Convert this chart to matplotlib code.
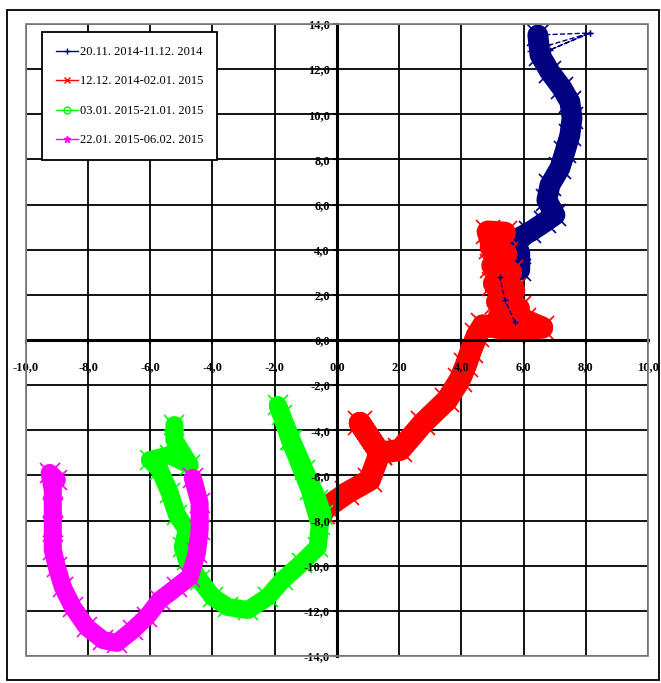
import matplotlib.pyplot as plt
from matplotlib.lines import Line2D
from matplotlib.patches import Rectangle
from matplotlib.ticker import FuncFormatter, MultipleLocator

# series (x, y)
labels = ['20.11. 2014-11.12. 2014', '12.12. 2014-02.01. 2015',
          '03.01. 2015-21.01. 2015', '22.01. 2015-06.02. 2015']

blue_x = [5.72, 5.40, 5.24, 5.88, 5.88, 5.72, 6.21, 6.69, 7.01, 6.75, 6.85, 7.17, 7.33,
          7.49, 7.56, 7.49, 7.23, 6.85, 6.53, 6.46, 8.13, 6.85, 8.13, 6.20, 6.70]
blue_y = [0.80, 1.77, 2.79, 3.10, 3.85, 4.43, 4.79, 5.23, 5.54, 6.20, 6.87, 7.62, 8.33,
          9.08, 9.84, 10.55, 11.17, 11.87, 12.63, 13.51, 13.60, 12.85, 13.60, 12.80, 12.60]

red_x = [5.30, 4.85, 5.40, 4.95, 5.45, 5.00, 5.60, 5.05, 5.70, 5.15, 5.85, 5.20, 6.00,
         6.60, 5.60, 4.70, 4.50, 4.30, 4.15, 3.95, 3.54, 2.77, 2.03, 1.38, 0.74, 1.38,
         1.06, 0.32, -0.32, -0.45]
red_y = [2.80, 4.80, 4.75, 4.10, 3.80, 3.30, 3.00, 2.50, 2.20, 1.70, 1.40, 1.00, 0.90,
         0.55, 0.45, 0.65, 0.20, -0.50, -1.10, -1.77, -2.66, -3.68, -4.87, -5.00, -3.68,
         -5.00, -6.20, -6.78, -7.40, -7.62]

green_x = [-0.45, -0.61, -1.03, -1.45, -1.77, -1.90, -1.51, -0.87, -0.55, -0.61, -1.13,
           -1.74, -2.22, -2.86, -3.50, -3.99, -4.41, -4.82, -4.95, -4.82, -5.14, -5.37,
           -5.69, -6.01, -5.37, -4.73, -5.22, -5.22]
green_y = [-7.75, -7.09, -5.76, -4.43, -3.32, -2.88, -4.43, -6.65, -8.20, -9.17, -9.88,
           -10.63, -11.39, -11.96, -11.83, -11.39, -10.63, -9.75, -9.17, -8.42, -7.75, -6.78,
           -5.76, -5.32, -5.10, -5.54, -4.43, -3.77]

magenta_x = [-4.63, -4.41, -4.41, -4.50, -4.73, -5.14, -5.69, -6.11, -6.56, -7.07, -7.52,
             -8.04, -8.49, -8.81, -9.00, -9.13, -9.13, -9.13, -9.13, -9.23, -9.00]
magenta_y = [-6.11, -7.22, -8.42, -9.44, -10.50, -10.94, -11.52, -12.27, -12.85, -13.42,
             -13.29, -12.72, -11.83, -10.94, -10.06, -9.30, -8.29, -7.40, -6.65, -5.89, -6.20]

colors = ['#000080', '#FF0000', '#00FF00', '#FF00FF']
markers = ['+', 'x', 'o', '*']
widths = [15, 16, 13, 13]
# dense (thick) part of each track; blue has sparse points at both ends
bands = [(blue_x[2:20], blue_y[2:20]), (red_x, red_y), (green_x, green_y),
         (magenta_x, magenta_y)]

fig = plt.figure(figsize=(6.61, 6.83), dpi=100)
ax = fig.add_axes([0.0389, 0.0395, 0.9414, 0.9254])

ax.set_xlim(-10, 10)
ax.set_ylim(-14, 14)
ax.xaxis.set_major_locator(MultipleLocator(2))
ax.yaxis.set_major_locator(MultipleLocator(2))

for v in ax.get_xticks():
  ax.axvline(v, color='black', lw=1.3, zorder=1)
for v in ax.get_yticks():
  ax.axhline(v, color='black', lw=1.3, zorder=1)

for (xs, ys), c, w in zip(bands, colors, widths):
  ax.plot(xs, ys, color=c, lw=w, solid_joinstyle='round', solid_capstyle='round', zorder=2)
  ax.plot(xs, ys, color=c, lw=0, marker='x', ms=w + 1, mew=1.2, zorder=2)
# sparse blue points below and glitch lines at the top of the blue track
ax.plot(blue_x[:3], blue_y[:3], color=colors[0], lw=1, ls='--', marker='+', ms=4, zorder=3)
ax.plot(blue_x[19:], blue_y[19:], color=colors[0], lw=1, ls='--', marker='+', ms=5, zorder=3)

fmt = FuncFormatter(lambda v, p: f'{v:.1f}'.replace('.', ','))
ax.xaxis.set_major_formatter(fmt)
ax.yaxis.set_major_formatter(fmt)
ax.set_axisbelow(False)
ax.xaxis.set_zorder(4)
ax.yaxis.set_zorder(4)

for s in ['top', 'right']:
  ax.spines[s].set_visible(False)
for s in ['left', 'bottom']:
  ax.spines[s].set_position('zero')
  ax.spines[s].set_linewidth(2.2)
  ax.spines[s].set_zorder(3)

ax.tick_params(axis='x', direction='out', length=3, width=1.5, pad=12)
ax.tick_params(axis='y', direction='out', length=3, width=1.5, pad=2)
for lab in ax.get_xticklabels() + ax.get_yticklabels():
  lab.set_fontfamily('Liberation Serif')
  lab.set_fontweight('bold')
  lab.set_fontsize(9)

# grey plot-area border
ax.add_patch(Rectangle((0, 0), 1, 1, transform=ax.transAxes, fill=False,
                       edgecolor='#808080', lw=1.3, clip_on=False, zorder=6))

handles = [Line2D([], [], color=c, lw=1, marker=m, ms=5,
                  mfc='none' if m == 'o' else c) for c, m in zip(colors, markers)]
leg = ax.legend(handles, labels, loc='upper left', bbox_to_anchor=(0.026, 0.987),
                borderaxespad=0, fancybox=False, framealpha=1, edgecolor='black',
                prop={'family': 'Liberation Serif', 'size': 9},
                handlelength=1.8, handletextpad=0.15, labelspacing=1.4, borderpad=1.1)
leg.get_frame().set_linewidth(1.3)
leg.set_zorder(10)

# outer border of the picture
fig.patches.append(Rectangle((0.0106, 0.0044), 0.9864, 0.981, transform=fig.transFigure,
                             fill=False, edgecolor='black', lw=1.3))

fig.savefig('out.png', dpi=100)
